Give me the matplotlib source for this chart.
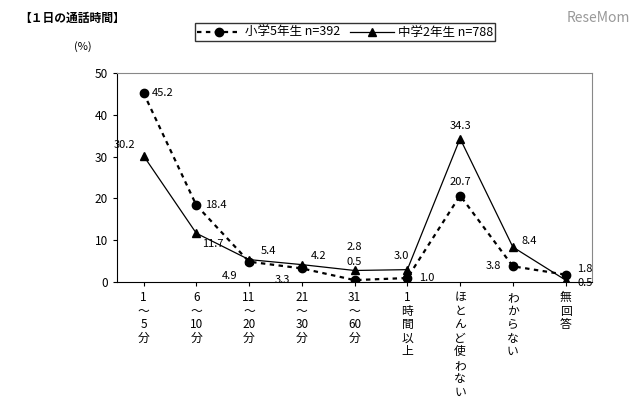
import matplotlib
matplotlib.use('Agg')
import matplotlib.pyplot as plt

plt.rcParams['font.family'] = ['Noto Sans CJK JP', 'DejaVu Sans']

categories = ['1～5分', '6～10分', '11～20分', '21～30分', '31～60分',
              '1時間以上', 'ほとんど使わない', 'わからない', '無回答']
tick_labels = ['1\n～\n5\n分', '6\n～\n10\n分', '11\n～\n20\n分', '21\n～\n30\n分',
               '31\n～\n60\n分', '1\n時\n間\n以\n上', 'ほ\nと\nん\nど\n使\nわ\nな\nい',
               'わ\nか\nら\nな\nい', '無\n回\n答']
elem = [45.2, 18.4, 4.9, 3.3, 0.5, 1.0, 20.7, 3.8, 1.8]
mid = [30.2, 11.7, 5.4, 4.2, 2.8, 3.0, 34.3, 8.4, 0.5]

fig = plt.figure(figsize=(6.4, 4.09), dpi=100)
fig.patch.set_facecolor('white')
ax = fig.add_axes([0.183, 0.31, 0.742, 0.512])
x = list(range(len(categories)))

ax.plot(x, elem, color='black', linestyle=(0, (2, 2)), linewidth=1.6,
        marker='o', markersize=6, label='小学5年生 n=392')
ax.plot(x, mid, color='black', linestyle='-', linewidth=0.9,
        marker='^', markersize=6, label='中学2年生 n=788')

# value labels (offsets in points)
elem_off = [(14, 0), (14, 0), (-14, -10), (-14, -8), (0, 13), (14, 0), (0, 10), (-14, 0), (14, 4)]
mid_off = [(-14, 8), (12, -8), (14, 6), (12, 6), (0, 17), (-4, 10), (0, 9), (12, 4), (14, -2)]
for i in x:
    ax.annotate(f'{elem[i]:.1f}', (i, elem[i]), xytext=elem_off[i], textcoords='offset points',
                ha='center', va='center', fontsize=8)
    ax.annotate(f'{mid[i]:.1f}', (i, mid[i]), xytext=mid_off[i], textcoords='offset points',
                ha='center', va='center', fontsize=8)

ax.set_xlim(-0.5, len(categories) - 0.5)
ax.set_ylim(0, 50)
ax.set_yticks([0, 10, 20, 30, 40, 50])
ax.set_xticks(x)
ax.set_xticklabels(tick_labels, fontsize=8.5, linespacing=1.05, va='top')
ax.tick_params(axis='both', length=3, labelsize=8.5)
for s in ax.spines.values():
    s.set_color('#888888')
    s.set_linewidth(0.8)
ax.spines['left'].set_color('black')
ax.spines['bottom'].set_color('black')

fig.text(0.03, 0.955, '【１日の通話時間】', fontsize=8.5, fontweight='bold', va='center')
fig.text(0.115, 0.885, '(%)', fontsize=8, va='center')
fig.text(0.985, 0.955, 'ReseMom', fontsize=10, color='#999999', ha='right', va='center')

ax.legend(loc='lower center', bbox_to_anchor=(0.48, 1.12), ncol=2, fontsize=9,
          frameon=True, fancybox=False, edgecolor='black', handlelength=3.5,
          borderpad=0.2, columnspacing=0.8, handletextpad=0.3)

fig.savefig('out.png', dpi=100, facecolor='white')
